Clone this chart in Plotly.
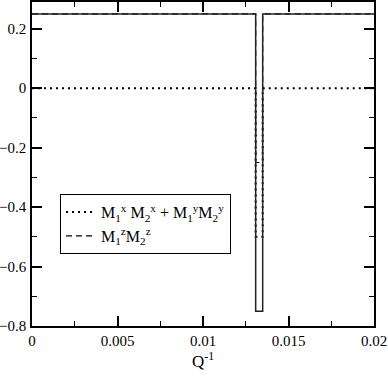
import plotly.graph_objects as go

# Q^-1 break points (step data, 'hv' shape)
q_inv = [0.0, 0.01308, 0.01349, 0.02]
total = [0.25, -0.75, 0.25, 0.25]
mxy = [0.0, -0.5, 0.0, 0.0]
mz = [0.25, -0.25, 0.25, 0.25]

x_ticks = [0, 0.005, 0.01, 0.015, 0.02]
x_labels = ["0", "0.005", "0.01", "0.015", "0.02"]
y_ticks = [-0.8, -0.6, -0.4, -0.2, 0, 0.2]
y_labels = ["\u22120.8", "\u22120.6", "\u22120.4", "\u22120.2", "0", "0.2"]

serif = "Liberation Serif"

fig = go.Figure()
fig.add_trace(go.Scatter(x=q_inv, y=mxy, mode="lines", line_shape="hv",
                         line=dict(color="black", width=2, dash="2px,4px"),
                         name="M<sub>1</sub><sup>x</sup> M<sub>2</sub><sup>x</sup> + M<sub>1</sub><sup>y</sup>M<sub>2</sub><sup>y</sup>"))
fig.add_trace(go.Scatter(x=q_inv, y=mz, mode="lines", line_shape="hv",
                         line=dict(color="black", width=1.2, dash="6px,4px"),
                         name="M<sub>1</sub><sup>z</sup>M<sub>2</sub><sup>z</sup>"))
fig.add_trace(go.Scatter(x=q_inv, y=total, mode="lines", line_shape="hv",
                         line=dict(color="#222", width=1.5),
                         showlegend=False))

axis_common = dict(showgrid=False, zeroline=False, showline=True, linecolor="black",
                   linewidth=1.5, mirror="ticks", ticks="inside", ticklen=10,
                   tickcolor="black", tickwidth=1.5, automargin=False,
                   tickfont=dict(family=serif, size=15, color="black"))

fig.update_xaxes(range=[0, 0.02], tickvals=x_ticks, ticktext=x_labels,
                 minor=dict(ticks="inside", ticklen=5, dtick=0.0025, tickcolor="black", tickwidth=1.2),
                 title=dict(text="Q<sup>-1</sup>", font=dict(family=serif, size=17, color="black"),
                            standoff=2),
                 **axis_common)
fig.update_yaxes(range=[-0.8, 0.29], tickvals=y_ticks, ticktext=y_labels,
                 minor=dict(ticks="inside", ticklen=5, dtick=0.1, tick0=0, tickcolor="black", tickwidth=1.2),
                 ticklabelstandoff=1,
                 **axis_common)

fig.update_layout(
    width=388, height=388,
    margin=dict(l=32, r=14, t=2, b=62),
    plot_bgcolor="white", paper_bgcolor="white",
    font=dict(family=serif, size=16, color="black"),
    legend=dict(x=0.082, y=0.407, xanchor="left", yanchor="top",
                bordercolor="black", borderwidth=1, bgcolor="white",
                font=dict(family=serif, size=16, color="black"),
                tracegroupgap=0, itemwidth=30),
)

# drop the default 8px body margin so the figure sits at the window corner
fig.write_html("out.html", config={"displayModeBar": False},
               post_script="document.body.style.margin='0';")
